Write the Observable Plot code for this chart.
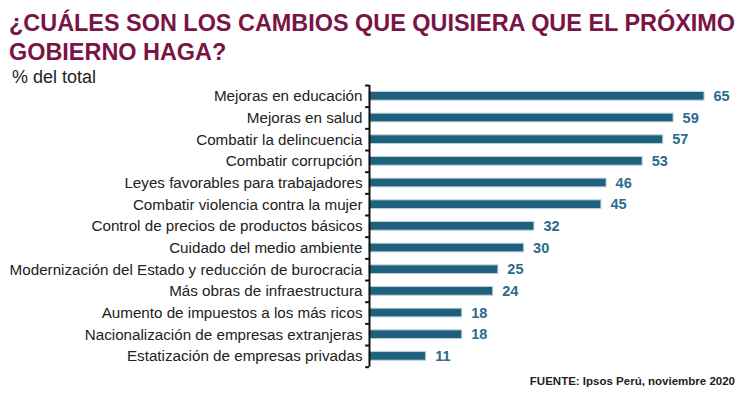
<!DOCTYPE html>
<html>
<head>
<meta charset="utf-8">
<script src="https://cdn.jsdelivr.net/npm/d3@7"></script>
<script src="https://cdn.jsdelivr.net/npm/@observablehq/plot@0.6"></script>
<style>
  body { margin: 0; background: #fff; font-family: "Liberation Sans", Arial, sans-serif; }
  #wrap { position: relative; width: 745px; height: 394px; overflow: hidden; }
  .title { position: absolute; left: 9px; font-weight: bold; font-size: 23px; color: #7a1446; white-space: nowrap; line-height: 1; transform-origin: 0 0; }
  #sub { position: absolute; left: 12px; top: 67px; font-size: 18px; color: #222; line-height: 1.2; }
  #src { position: absolute; right: 10px; top: 375px; font-size: 11.5px; font-weight: bold; color: #222; }
  #chart { position: absolute; left: 0; top: 0; }
</style>
</head>
<body>
<div id="wrap">
  <div id="chart"></div>
  <div class="title" id="t1" style="top:12px">¿CUÁLES SON LOS CAMBIOS QUE QUISIERA QUE EL PRÓXIMO</div>
  <div class="title" id="t2" style="top:41px">GOBIERNO HAGA?</div>
  <div id="sub">% del total</div>
  <div id="src">FUENTE: Ipsos Perú, noviembre 2020</div>
</div>
<script>
const categories = [
  "Mejoras en educación",
  "Mejoras en salud",
  "Combatir la delincuencia",
  "Combatir corrupción",
  "Leyes favorables para trabajadores",
  "Combatir violencia contra la mujer",
  "Control de precios de productos básicos",
  "Cuidado del medio ambiente",
  "Modernización del Estado y reducción de burocracia",
  "Más obras de infraestructura",
  "Aumento de impuestos a los más ricos",
  "Nacionalización de empresas extranjeras",
  "Estatización de empresas privadas"
];
const values = [65, 59, 57, 53, 46, 45, 32, 30, 25, 24, 18, 18, 11];

const data = categories.map((c, i) => ({cat: c, value: values[i]}));
const step = (394 - 85 - 27.3) / categories.length;

const plot = Plot.plot({
  width: 745,
  height: 394,
  marginLeft: 369,
  marginRight: 41,
  marginTop: 85,
  marginBottom: 27.3,
  style: {fontFamily: "Liberation Sans, Arial, sans-serif", background: "transparent"},
  x: {domain: [0, 65], axis: null},
  y: {domain: categories, paddingInner: 0.6, paddingOuter: 0.3, round: false, label: null},
  marks: [
    Plot.axisY({tickSize: 0, tickPadding: 7, fontSize: 15.2, fill: "#222", label: null}),
    Plot.barX(data, {x: "value", y: "cat", fill: "#20607f", stroke: "#b9d0dc", strokeWidth: 1}),
    Plot.text(data, {x: "value", y: "cat", text: d => String(d.value), textAnchor: "start", dx: 9, fontSize: 14.5, fontWeight: "bold", fill: "#2b6b8c"}),
    Plot.ruleX([0], {stroke: "#111", strokeWidth: 2}),
    Plot.ruleY(data, {y: "cat", x1: -0.75, x2: 0, dy: -step / 2, stroke: "#111", strokeWidth: 2}),
    Plot.ruleY(data.slice(-1), {y: "cat", x1: -0.75, x2: 0, dy: step / 2, stroke: "#111", strokeWidth: 2})
  ]
});
document.getElementById("chart").appendChild(plot);

// fit title line 1 to the reference width
const t1 = document.getElementById("t1");
const w = t1.getBoundingClientRect().width;
const s = 726 / w;
t1.style.transform = `scaleX(${s})`;
document.getElementById("t2").style.transform = `scaleX(${s})`;
</script>
</body>
</html>
